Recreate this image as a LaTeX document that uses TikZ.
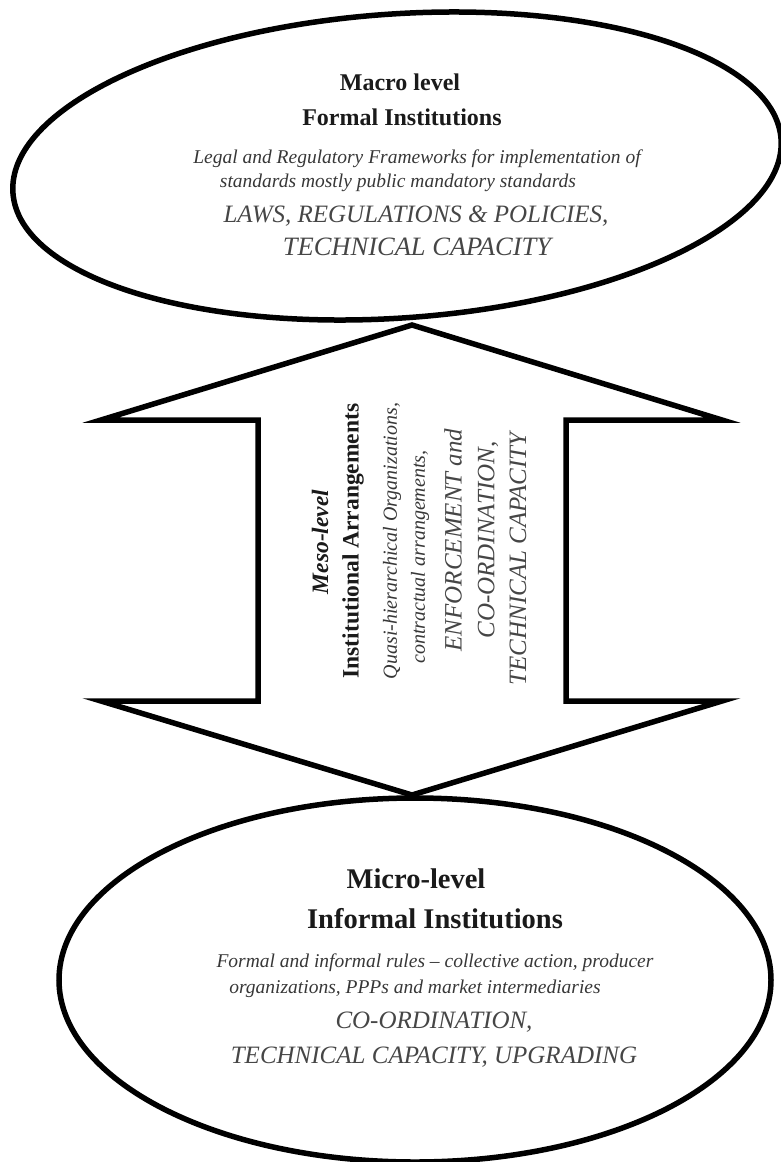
\documentclass[tikz,border=0pt]{standalone}
\usepackage{fontspec}
\setmainfont{Liberation Serif}
\usepackage{tikz}
\definecolor{inkdark}{RGB}{26,26,26}
\definecolor{inkgray}{RGB}{55,55,55}
\definecolor{inklight}{RGB}{70,70,70}

\begin{document}
\begin{tikzpicture}[x=1pt,y=-1pt,line join=miter,
  levelhead/.style={font=\fontsize{24}{28}\selectfont\bfseries,text=inkdark,inner sep=0pt},
  bighead/.style={font=\fontsize{28.5}{32}\selectfont\bfseries,text=inkdark,inner sep=0pt},
  desctext/.style={font=\fontsize{19.5}{23}\selectfont\itshape,text=inkgray,inner sep=0pt},
  keytext/.style={font=\fontsize{25}{29}\selectfont\itshape,text=inklight,inner sep=0pt},
  outline/.style={draw=black,line width=5.5pt}]
  \useasboundingbox (0,0) rectangle (781,1162);
  \clip (0,0) rectangle (781,1162);

  % --- Macro level: formal institutions ---
  \draw[outline,rotate around={4:(397,166)}] (397,166) ellipse [x radius=385,y radius=152];
  \node[levelhead,anchor=base] (macrohead) at (400,90) {Macro level};
  \node[levelhead,anchor=base] (macrosub) at (402,125) {Formal Institutions};
  \node[desctext,anchor=base] (macrodesca) at (417,163) {Legal and Regulatory Frameworks for implementation of};
  \node[desctext,anchor=base] (macrodescb) at (398,187) {standards mostly public mandatory standards};
  \node[keytext,anchor=base] (macrokeya) at (416,222) {LAWS, REGULATIONS \& POLICIES,};
  \node[keytext,anchor=base,font=\fontsize{26.5}{30}\selectfont\itshape] (macrokeyb) at (417,255) {TECHNICAL CAPACITY};

  % --- Meso level: double-headed block arrow ---
  \draw[outline] (412,325) -- (101,420) -- (258,420) -- (258,701) -- (101,701)
    -- (412,795) -- (722,701) -- (566,701) -- (566,420) -- (722,420) -- cycle;
  \begin{scope}[every node/.append style={rotate=90,anchor=center}]
    \node[levelhead,font=\fontsize{23.5}{27}\selectfont\bfseries\itshape] (mesohead) at (320,542) {Meso-level};
    \node[levelhead,font=\fontsize{23.5}{27}\selectfont\bfseries] (mesosub) at (353,541) {Institutional Arrangements};
    \node[desctext,font=\fontsize{20}{23}\selectfont\itshape] (mesodesca) at (392,541) {Quasi-hierarchical Organizations,};
    \node[desctext,font=\fontsize{20}{23}\selectfont\itshape] (mesodescb) at (420,557) {contractual arrangements,};
    \node[keytext] (mesokeya) at (453,540) {ENFORCEMENT and};
    \node[keytext] (mesokeyb) at (488,540) {CO-ORDINATION,};
    \node[keytext] (mesokeyc) at (518,559) {TECHNICAL CAPACITY};
  \end{scope}

  % --- Micro level: informal institutions ---
  \draw[outline] (415,980) ellipse [x radius=356,y radius=182];
  \node[bighead,anchor=base] (microhead) at (416,888) {Micro-level};
  \node[bighead,anchor=base] (microsub) at (435,928) {Informal Institutions};
  \node[desctext,anchor=base] (microdesca) at (435,967) {Formal and informal rules -- collective action, producer};
  \node[desctext,anchor=base] (microdescb) at (415,993) {organizations, PPPs and market intermediaries};
  \node[keytext,anchor=base] (microkeya) at (434,1028) {CO-ORDINATION,};
  \node[keytext,anchor=base] (microkeyb) at (434,1063) {TECHNICAL CAPACITY, UPGRADING};
\end{tikzpicture}
\end{document}
